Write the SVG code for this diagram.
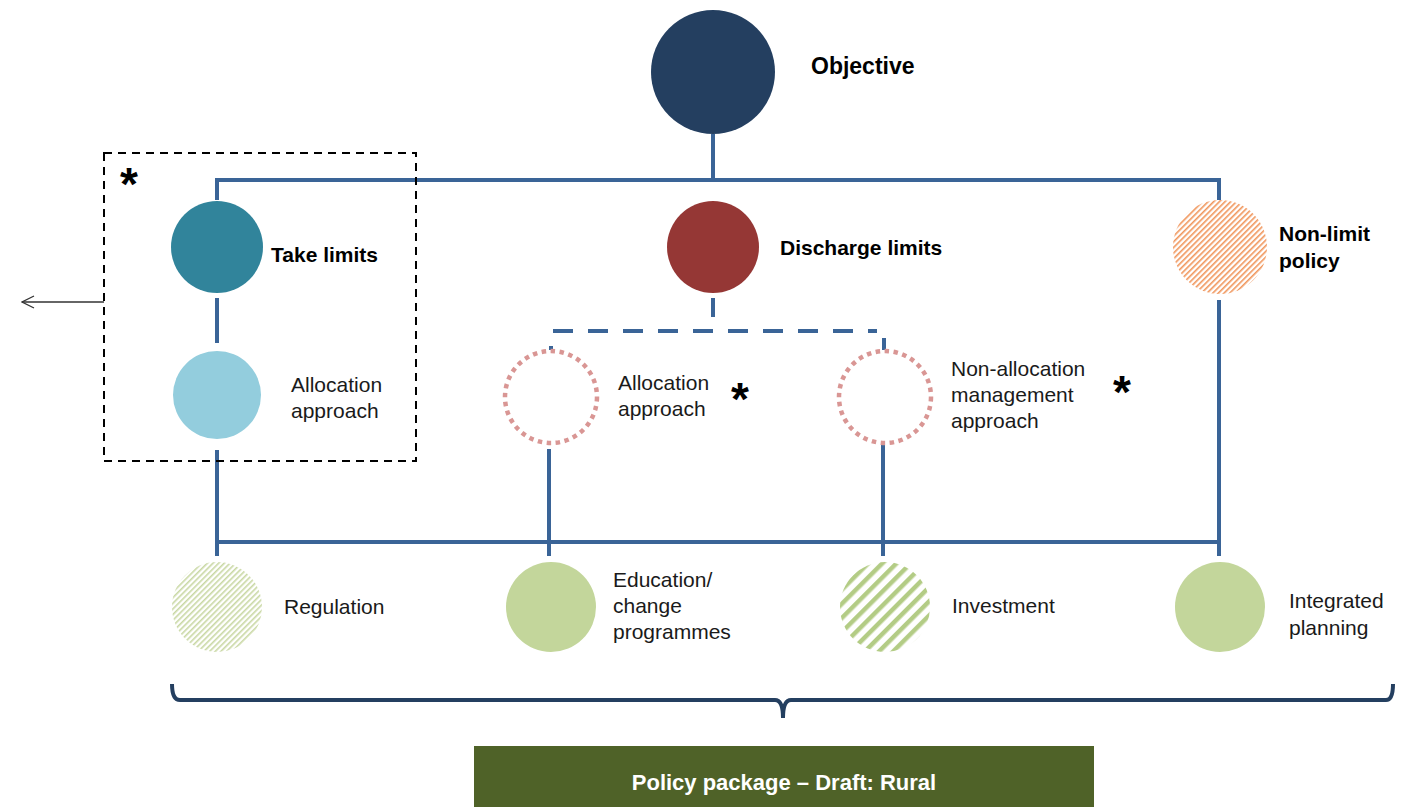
<svg xmlns="http://www.w3.org/2000/svg" width="1401" height="807" viewBox="0 0 1401 807">
<defs>
<style>
.lbl{font-family:"Liberation Sans",Arial,sans-serif;font-size:21px;fill:#1a1a1a}
.bold{font-family:"Liberation Sans",Arial,sans-serif;font-size:21px;font-weight:bold;fill:#000}
.star{font-family:"Liberation Sans",Arial,sans-serif;font-size:46px;font-weight:bold;fill:#000}
.conn{stroke:#3A6497;stroke-width:4;fill:none}
.dotc{fill:none;stroke:#D99694;stroke-width:4.5;stroke-dasharray:4.5 4.5}
</style>
<pattern id="hOrange" width="4" height="4" patternUnits="userSpaceOnUse" patternTransform="rotate(45)"><rect width="1.6" height="4" fill="#F0955A"/></pattern>
<pattern id="hLight" width="4" height="4" patternUnits="userSpaceOnUse" patternTransform="rotate(45)"><rect width="1.6" height="4" fill="#C9D8A4"/></pattern>
<pattern id="hGreen" width="10" height="10" patternUnits="userSpaceOnUse" patternTransform="rotate(45)"><rect width="4.5" height="10" fill="#B3CC85"/></pattern>
<marker id="arr" markerWidth="14" markerHeight="14" refX="13" refY="7" orient="auto" markerUnits="userSpaceOnUse"><path d="M1,1 L13,7 L1,13" fill="none" stroke="#333" stroke-width="1.3"/></marker>
</defs>
<rect width="1401" height="807" fill="#fff"/>

<g id="connectors">
<line class="conn" x1="713" y1="134" x2="713" y2="180"/>
<path class="conn" d="M217,200 V180 H1219 V200"/>
<line class="conn" x1="217" y1="298" x2="217" y2="343"/>
<line class="conn" x1="217" y1="450" x2="217" y2="544"/>
<line class="conn" x1="713" y1="298" x2="713" y2="317"/>
<line class="conn" x1="553" y1="331" x2="877" y2="331" stroke-dasharray="20 15"/>
<line class="conn" x1="551" y1="346" x2="551" y2="350"/>
<line class="conn" x1="884" y1="338" x2="884" y2="350"/>
<line class="conn" x1="549" y1="449" x2="549" y2="556"/>
<line class="conn" x1="883" y1="443" x2="883" y2="556"/>
<line class="conn" x1="1219" y1="300" x2="1219" y2="556"/>
<line class="conn" x1="217" y1="542" x2="1219" y2="542"/>
<line class="conn" x1="217" y1="542" x2="217" y2="556"/>
<line x1="104" y1="302" x2="22" y2="302" stroke="#333" stroke-width="1.3" marker-end="url(#arr)"/>
<path d="M172,684 Q172,700 180,700 H775 Q783,700 783,718 Q783,700 791,700 H1386 Q1393,700 1393,684" fill="none" stroke="#243F60" stroke-width="4"/>
</g>

<g id="group-box">
<rect x="104" y="153" width="312" height="308" fill="none" stroke="#000" stroke-width="2" stroke-dasharray="8 6"/>
<text class="star" x="120" y="200">*</text>
</g>

<g id="objective">
<circle cx="713" cy="72" r="62" fill="#243F60"/>
<text class="bold" x="811" y="74" style="font-size:23px">Objective</text>
</g>

<g id="take-limits">
<circle cx="217" cy="247" r="46" fill="#31849B"/>
<text class="bold" x="271" y="262">Take limits</text>
</g>

<g id="take-allocation">
<circle cx="217" cy="395" r="44" fill="#93CDDD"/>
<text class="lbl" x="291" y="392">Allocation</text>
<text class="lbl" x="291" y="418">approach</text>
</g>

<g id="discharge-limits">
<circle cx="713" cy="247" r="46" fill="#953735"/>
<text class="bold" x="780" y="255">Discharge limits</text>
</g>

<g id="discharge-allocation">
<circle class="dotc" cx="551" cy="397" r="46"/>
<text class="lbl" x="618" y="390">Allocation</text>
<text class="lbl" x="618" y="416">approach</text>
<text class="star" x="731" y="415">*</text>
</g>

<g id="non-allocation">
<circle class="dotc" cx="885" cy="397" r="46"/>
<text class="lbl" x="951" y="376">Non-allocation</text>
<text class="lbl" x="951" y="402">management</text>
<text class="lbl" x="951" y="428">approach</text>
<text class="star" x="1113" y="408">*</text>
</g>

<g id="non-limit">
<circle cx="1220" cy="247" r="47" fill="url(#hOrange)"/>
<text class="bold" x="1279" y="241">Non-limit</text>
<text class="bold" x="1279" y="268">policy</text>
</g>

<g id="regulation">
<circle cx="217" cy="607" r="45" fill="url(#hLight)"/>
<text class="lbl" x="284" y="614">Regulation</text>
</g>

<g id="education">
<circle cx="551" cy="607" r="45" fill="#C3D69B"/>
<text class="lbl" x="613" y="587">Education/</text>
<text class="lbl" x="613" y="613">change</text>
<text class="lbl" x="613" y="639">programmes</text>
</g>

<g id="investment">
<circle cx="885" cy="607" r="45" fill="url(#hGreen)"/>
<text class="lbl" x="952" y="613">Investment</text>
</g>

<g id="integrated">
<circle cx="1220" cy="607" r="45" fill="#C3D69B"/>
<text class="lbl" x="1289" y="608">Integrated</text>
<text class="lbl" x="1289" y="635">planning</text>
</g>

<g id="policy-package">
<rect x="474" y="746" width="620" height="61" fill="#4F6228"/>
<text x="784" y="790" text-anchor="middle" font-family="'Liberation Sans',Arial,sans-serif" font-size="22" font-weight="bold" fill="#fff">Policy package – Draft: Rural</text>
</g>
</svg>
